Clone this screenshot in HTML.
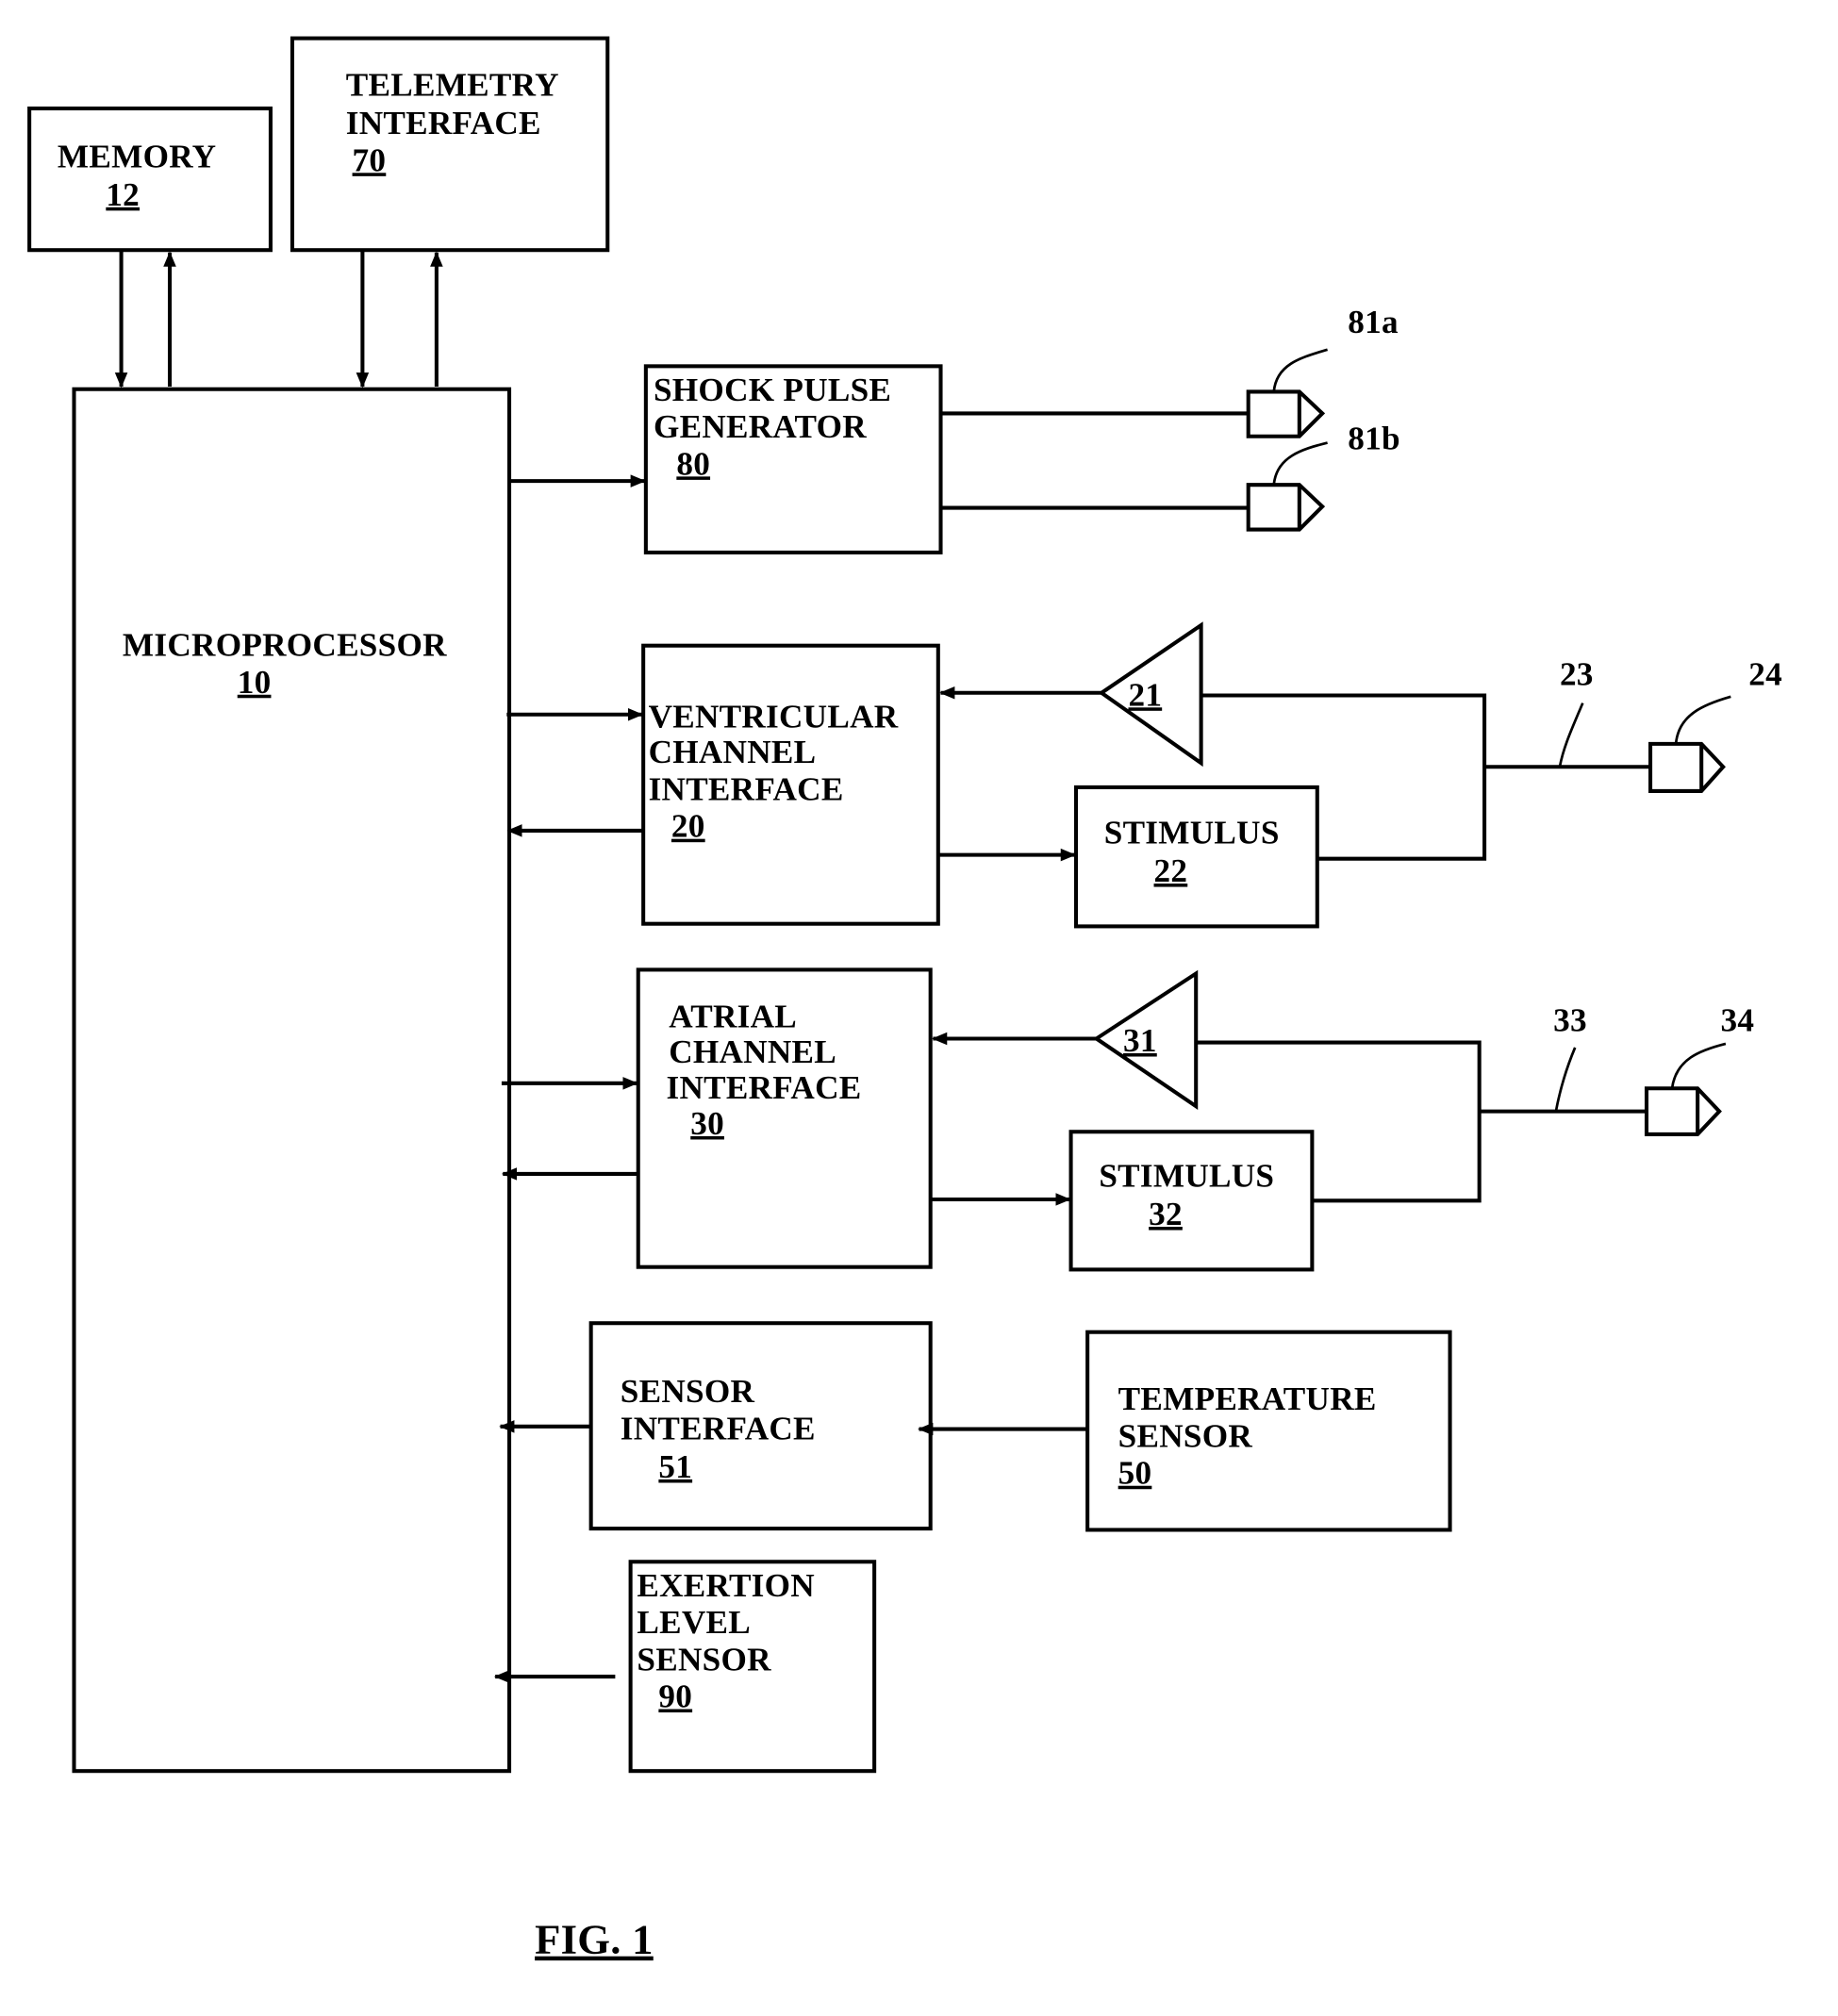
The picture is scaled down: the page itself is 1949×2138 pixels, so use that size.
<!DOCTYPE html>
<html><head><meta charset="utf-8"><style>
html,body{margin:0;padding:0;background:#fff}
svg{display:block}
text{font-family:"Liberation Serif",serif;font-weight:bold;font-size:26px;fill:#000;letter-spacing:0.2px}
</style></head><body>
<svg width="1949" height="2138" viewBox="0 0 1440 1580" preserveAspectRatio="none" xmlns="http://www.w3.org/2000/svg">
<defs>
<marker id="a" markerWidth="12" markerHeight="12" refX="11" refY="6" orient="auto" markerUnits="userSpaceOnUse"><path d="M0,1 L12,6 L0,11 z" fill="#000"/></marker>
</defs>
<g fill="none" stroke="#000" stroke-width="3">
<rect x="23" y="85" width="189" height="111"/>
<rect x="229" y="30" width="247" height="166"/>
<rect x="58" y="305" width="341" height="1083"/>
<rect x="506" y="287" width="231" height="146"/>
<rect x="504" y="506" width="231" height="218"/>
<rect x="843" y="617" width="189" height="109"/>
<rect x="500" y="760" width="229" height="233"/>
<rect x="839" y="887" width="189" height="108"/>
<rect x="463" y="1037" width="266" height="161"/>
<rect x="852" y="1044" width="284" height="155"/>
<rect x="494" y="1224" width="191" height="164"/>
</g>
<g stroke="#000" stroke-width="3" fill="none">
<line x1="95" y1="196" x2="95" y2="303" marker-end="url(#a)"/>
<line x1="133" y1="303" x2="133" y2="198" marker-end="url(#a)"/>
<line x1="284" y1="196" x2="284" y2="303" marker-end="url(#a)"/>
<line x1="342" y1="303" x2="342" y2="198" marker-end="url(#a)"/>
<line x1="399" y1="377" x2="505" y2="377" marker-end="url(#a)"/>
<line x1="737" y1="324" x2="978" y2="324"/>
<line x1="737" y1="398" x2="978" y2="398"/>
<line x1="397" y1="560" x2="503" y2="560" marker-end="url(#a)"/>
<line x1="504" y1="651" x2="398" y2="651" marker-end="url(#a)"/>
<line x1="863" y1="543" x2="737" y2="543" marker-end="url(#a)"/>
<line x1="735" y1="670" x2="842" y2="670" marker-end="url(#a)"/>
<polyline points="941,545 1163,545 1163,673 1032,673"/>
<line x1="1163" y1="601" x2="1293" y2="601"/>
<line x1="393" y1="849" x2="499" y2="849" marker-end="url(#a)"/>
<line x1="500" y1="920" x2="394" y2="920" marker-end="url(#a)"/>
<line x1="859" y1="814" x2="731" y2="814" marker-end="url(#a)"/>
<line x1="729" y1="940" x2="838" y2="940" marker-end="url(#a)"/>
<polyline points="937,817 1159,817 1159,941 1028,941"/>
<line x1="1159" y1="871" x2="1290" y2="871"/>
<line x1="463" y1="1118" x2="392" y2="1118" marker-end="url(#a)"/>
<line x1="852" y1="1120" x2="720" y2="1120" marker-end="url(#a)"/>
<line x1="482" y1="1314" x2="388" y2="1314" marker-end="url(#a)"/>
<polygon points="941,490 941,598 863,543" fill="#fff"/>
<polygon points="937,763 937,867 859,814" fill="#fff"/>
<path d="M978,307 H1018 L1036,324 L1018,342 H978 Z M1018,307 V342"/>
<path d="M978,380 H1018 L1036,397 L1018,415 H978 Z M1018,380 V415"/>
<path d="M1293,583 H1333 L1350,601 L1333,620 H1293 Z M1333,583 V620"/>
<path d="M1290,853 H1330 L1347,871 L1330,889 H1290 Z M1330,853 V889"/>
<path d="M998,307 C1000,285 1020,280 1040,274" stroke-width="2"/>
<path d="M998,380 C1000,358 1020,352 1040,347" stroke-width="2"/>
<path d="M1313,583 C1315,560 1335,552 1356,546" stroke-width="2"/>
<path d="M1310,853 C1313,830 1332,823 1352,818" stroke-width="2"/>
<path d="M1240,551 C1232,570 1225,585 1222,601" stroke-width="2"/>
<path d="M1234,821 C1226,840 1222,855 1219,871" stroke-width="2"/>
</g>
<text x="45" y="131">MEMORY</text>
<text x="83" y="161" text-decoration="underline">12</text>
<text x="271" y="75">TELEMETRY</text>
<text x="271" y="105">INTERFACE</text>
<text x="276" y="134" text-decoration="underline">70</text>
<text x="96" y="514">MICROPROCESSOR</text>
<text x="186" y="543" text-decoration="underline">10</text>
<text x="512" y="314">SHOCK PULSE</text>
<text x="512" y="343">GENERATOR</text>
<text x="530" y="372" text-decoration="underline">80</text>
<text x="1056" y="261">81a</text>
<text x="1056" y="352">81b</text>
<text x="508" y="570">VENTRICULAR</text>
<text x="508" y="598">CHANNEL</text>
<text x="508" y="627">INTERFACE</text>
<text x="526" y="656" text-decoration="underline">20</text>
<text x="884" y="553" text-decoration="underline">21</text>
<text x="865" y="661">STIMULUS</text>
<text x="904" y="691" text-decoration="underline">22</text>
<text x="1222" y="537">23</text>
<text x="1370" y="537">24</text>
<text x="524" y="805">ATRIAL</text>
<text x="524" y="833">CHANNEL</text>
<text x="522" y="861">INTERFACE</text>
<text x="541" y="889" text-decoration="underline">30</text>
<text x="880" y="824" text-decoration="underline">31</text>
<text x="861" y="930">STIMULUS</text>
<text x="900" y="960" text-decoration="underline">32</text>
<text x="1217" y="808">33</text>
<text x="1348" y="808">34</text>
<text x="486" y="1099">SENSOR</text>
<text x="486" y="1128">INTERFACE</text>
<text x="516" y="1158" text-decoration="underline">51</text>
<text x="876" y="1105">TEMPERATURE</text>
<text x="876" y="1134">SENSOR</text>
<text x="876" y="1163" text-decoration="underline">50</text>
<text x="499" y="1251">EXERTION</text>
<text x="499" y="1280">LEVEL</text>
<text x="499" y="1309">SENSOR</text>
<text x="516" y="1338" text-decoration="underline">90</text>
<text x="419" y="1531" style="font-size:33px" text-decoration="underline">FIG. 1</text>
</svg>
</body></html>
